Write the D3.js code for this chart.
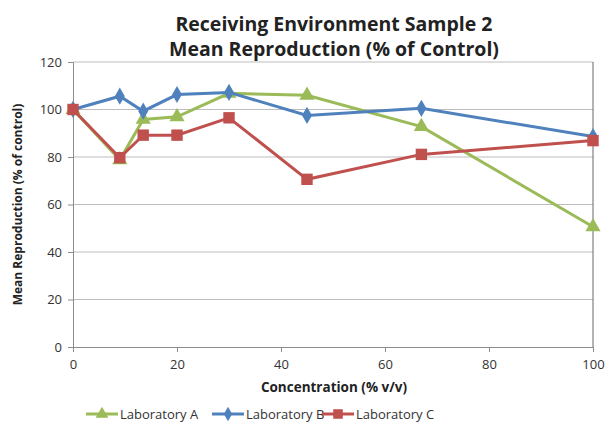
<!DOCTYPE html>
<html>
<head>
<meta charset="utf-8">
<script src="https://cdn.jsdelivr.net/npm/d3@7"></script>
<style>
  body { margin: 0; background: #fff; }
  text { font-family: "Open Sans", "Liberation Sans", sans-serif; }
</style>
</head>
<body>
<div id="container"></div>
<script>
const width = 608;
const height = 424;
const marginTop = 62;
const marginRight = 15;
const marginBottom = 77;
const marginLeft = 73;

// data
const concentration = [0, 9, 13.5, 20, 30, 45, 67, 100];
const labA = [100, 78.8, 95.8, 96.9, 106.8, 106, 92.8, 50.6];
const labB = [100, 105.6, 99.3, 106.3, 107.2, 97.5, 100.5, 88.6];
const labC = [100, 79.7, 89.2, 89.2, 96.5, 70.6, 81.1, 86.9];
const seriesNames = ["Laboratory A", "Laboratory B", "Laboratory C"];
const yTicks = [0, 20, 40, 60, 80, 100, 120];
const xTicks = [0, 20, 40, 60, 80, 100];

const colors = ["#9BBB59", "#4F81BD", "#C0504D"];
const symbols = [d3.symbolTriangle, d3.symbolDiamond, d3.symbolSquare];
const symbolSizes = [100, 85, 130];

const series = [labA, labB, labC].map((vals, i) => ({
  name: seriesNames[i],
  color: colors[i],
  symbol: symbols[i],
  size: symbolSizes[i],
  points: vals.map((v, j) => ({ x: concentration[j], y: v }))
}));

const svg = d3.select("#container")
  .append("svg")
  .attr("width", width)
  .attr("height", height);

const x = d3.scaleLinear()
  .domain([0, 100])
  .range([marginLeft, width - marginRight]);

const y = d3.scaleLinear()
  .domain([0, 120])
  .range([height - marginBottom, marginTop]);

// gridlines
svg.append("g")
  .selectAll("line")
  .data(yTicks.filter(d => d > 0))
  .join("line")
  .attr("x1", marginLeft)
  .attr("x2", width - marginRight)
  .attr("y1", d => y(d))
  .attr("y2", d => y(d))
  .attr("stroke", "#bdbdbd")
  .attr("stroke-width", 1);

// right border of the plot area
svg.append("line")
  .attr("x1", width - marginRight)
  .attr("x2", width - marginRight)
  .attr("y1", marginTop)
  .attr("y2", height - marginBottom)
  .attr("stroke", "#666")
  .attr("stroke-width", 1);

const yAxis = svg.append("g")
  .attr("transform", `translate(${marginLeft},0)`)
  .call(d3.axisLeft(y).tickValues(yTicks).tickSize(5).tickPadding(6));

const xAxis = svg.append("g")
  .attr("transform", `translate(0,${height - marginBottom})`)
  .call(d3.axisBottom(x).tickValues(xTicks).tickSize(5).tickPadding(8));

[yAxis, xAxis].forEach(g => {
  g.select(".domain").attr("stroke", "#8c8c8c");
  g.selectAll(".tick line").attr("stroke", "#8c8c8c");
  g.selectAll(".tick text")
    .attr("fill", "#333")
    .style("font-size", "13px")
    .style("font-family", "'Open Sans', sans-serif");
});

const line = d3.line()
  .x(d => x(d.x))
  .y(d => y(d.y));

const groups = svg.selectAll(".series")
  .data(series)
  .join("g")
  .attr("class", "series");

groups.append("path")
  .attr("d", d => line(d.points))
  .attr("fill", "none")
  .attr("stroke", d => d.color)
  .attr("stroke-width", 3);

groups.each(function(s) {
  d3.select(this).selectAll("path.mark")
    .data(s.points)
    .join("path")
    .attr("class", "mark")
    .attr("transform", d => `translate(${x(d.x)},${y(d.y)})`)
    .attr("d", d3.symbol().type(s.symbol).size(s.size))
    .attr("fill", s.color);
});

// titles
const titleLines = ["Receiving Environment Sample 2", "Mean Reproduction (% of Control)"];
svg.selectAll(".title")
  .data(titleLines)
  .join("text")
  .attr("class", "title")
  .attr("x", 334)
  .attr("y", (d, i) => 31 + i * 25)
  .attr("text-anchor", "middle")
  .style("font-size", "19.5px")
  .style("font-weight", "bold")
  .attr("fill", "#222")
  .text(d => d);

svg.append("text")
  .attr("x", 334)
  .attr("y", 392)
  .attr("text-anchor", "middle")
  .style("font-size", "13.5px")
  .style("font-weight", "bold")
  .attr("fill", "#222")
  .text("Concentration (% v/v)");

svg.append("text")
  .attr("transform", `translate(22,${y(60)}) rotate(-90)`)
  .attr("text-anchor", "middle")
  .style("font-size", "12px")
  .style("font-weight", "bold")
  .attr("fill", "#222")
  .text("Mean Reproduction (% of control)");

// legend
const legendX = [86, 212, 322];
const legend = svg.selectAll(".legend")
  .data(series)
  .join("g")
  .attr("class", "legend")
  .attr("transform", (d, i) => `translate(${legendX[i]},414)`);

legend.append("line")
  .attr("x1", 0)
  .attr("x2", 32)
  .attr("stroke", d => d.color)
  .attr("stroke-width", 3);

legend.append("path")
  .attr("transform", "translate(16,0)")
  .attr("d", d => d3.symbol().type(d.symbol).size(d.size * 0.7)())
  .attr("fill", d => d.color);

legend.append("text")
  .attr("x", 34)
  .attr("y", 5)
  .style("font-size", "13px")
  .attr("fill", "#333")
  .text(d => d.name);
</script>
</body>
</html>
